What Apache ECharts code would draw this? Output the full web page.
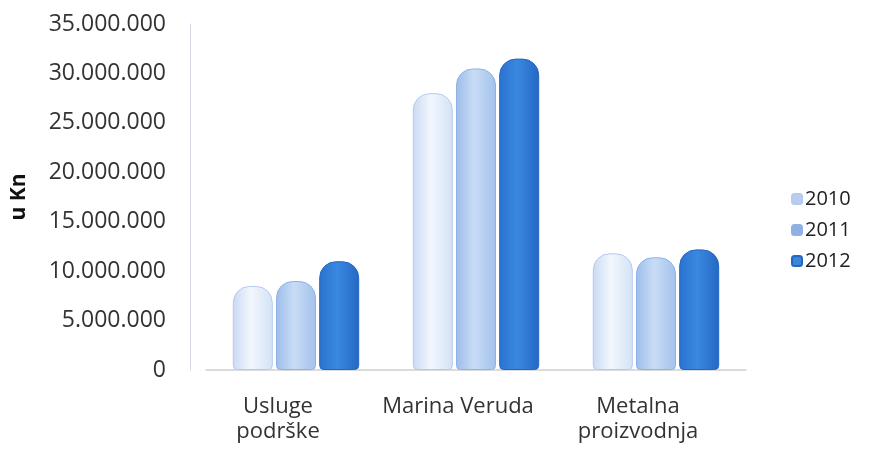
<!DOCTYPE html>
<html><head><meta charset="utf-8">
<script src="https://cdn.jsdelivr.net/npm/echarts@6/dist/echarts.min.js"></script>
<style>html,body{margin:0;padding:0;background:#fff}#c{width:896px;height:450px}</style>
</head><body><div id="c"></div>
<script>
const categories = ['Usluge\npodrške', 'Marina Veruda', 'Metalna\nproizvodnja'];
const years = ['2010', '2011', '2012'];
const v2010 = [8500000, 28000000, 11800000];
const v2011 = [9000000, 30500000, 11400000];
const v2012 = [11000000, 31500000, 12200000];
const yTicks = [0, 5000000, 10000000, 15000000, 20000000, 25000000, 30000000, 35000000];

function grad(a, b, c) {
  return new echarts.graphic.LinearGradient(0, 0, 1, 0, [
    {offset: 0, color: a}, {offset: 0.45, color: b}, {offset: 1, color: c}
  ]);
}
const styles = [
  {color: grad('#c9daf3', '#f2f7fd', '#d3e2f6'), borderColor: '#b4cbee'},
  {color: grad('#9dbdea', '#c8dcf6', '#a3c2ec'), borderColor: '#8fb2e6'},
  {color: grad('#2a72cf', '#3a88e0', '#2468c4'), borderColor: '#2466c0'}
];
const legendColors = ['#b8cdef', '#8fb0e3', '#3d85d6'];
const data = [v2010, v2011, v2012];
const fmt = v => v === 0 ? '0' : String(v).replace(/\B(?=(\d{3})+(?!\d))/g, '.');
const FONT = 'Open Sans';

const chart = echarts.init(document.getElementById('c'));
chart.setOption({
  animation: false,
  textStyle: {fontFamily: FONT},
  grid: {left: 206, top: 24, width: 540, bottom: 80},
  legend: {
    orient: 'vertical', left: 786, top: 184, itemGap: 11,
    itemWidth: 10, itemHeight: 10,
    textStyle: {fontSize: 20, color: '#222', fontFamily: FONT, padding: [0, 0, 0, -2]},
    data: years.map((y, i) => ({name: y, itemStyle: {color: legendColors[i]}}))
  },
  xAxis: {
    type: 'category', data: categories,
    axisLine: {lineStyle: {color: '#d0d0d0', width: 1.5}},
    axisTick: {show: false},
    axisLabel: {interval: 0, fontSize: 22, color: '#333', margin: 24, lineHeight: 25,
      padding: [0, 36, 0, 0]}
  },
  yAxis: {
    type: 'value', min: 0, max: 35000000, interval: 5000000, offset: 16,
    name: 'u Kn', nameLocation: 'middle', nameGap: 160, nameRotate: 90,
    nameTextStyle: {fontSize: 21, fontWeight: 'bold', color: '#111', fontFamily: FONT},
    axisLine: {show: true, lineStyle: {color: '#d4d8e4', width: 1}},
    axisTick: {show: false},
    splitLine: {show: false},
    axisLabel: {fontSize: 23, color: '#333', margin: 24,
      formatter: v => yTicks.includes(v) ? fmt(v) : ''}
  },
  series: years.map((y, i) => ({
    name: y, type: 'bar', data: data[i], barWidth: 40, barGap: '8%',
    itemStyle: Object.assign({borderWidth: 1, borderRadius: [16, 16, 4, 4]}, styles[i])
  }))
});
</script></body></html>
